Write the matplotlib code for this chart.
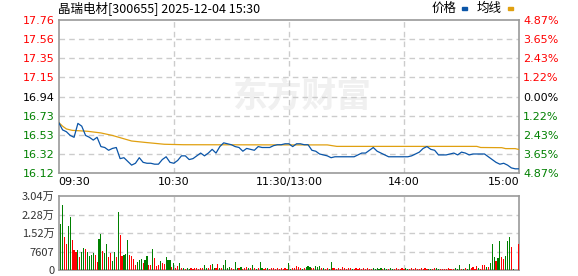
import matplotlib
matplotlib.use("Agg")
import matplotlib.pyplot as plt
from matplotlib.patches import Rectangle

plt.rcParams['font.family'] = ['DejaVu Sans', 'Noto Sans CJK SC']
CJK = ['Noto Sans CJK SC', 'DejaVu Sans']

title = "晶瑞电材[300655] 2025-12-04 15:30"
prev_close = 16.94

# minute index from 09:30 (0) to 15:00 (240), lunch break removed
price_minutes = list(range(0, 241, 2))
prices = [
    16.66, 16.58, 16.56, 16.52, 16.50, 16.65, 16.62, 16.52, 16.50, 16.47,
    16.50, 16.40, 16.39, 16.36, 16.38, 16.39, 16.27, 16.28, 16.24, 16.20,
    16.22, 16.28, 16.23, 16.22, 16.22, 16.21, 16.21, 16.26, 16.29, 16.23,
    16.22, 16.25, 16.30, 16.30, 16.26, 16.27, 16.30, 16.33, 16.30, 16.33,
    16.37, 16.33, 16.40, 16.44, 16.43, 16.42, 16.40, 16.39, 16.35, 16.38,
    16.37, 16.36, 16.40, 16.39, 16.39, 16.39, 16.41, 16.42, 16.42, 16.43,
    16.43, 16.40, 16.43, 16.43, 16.42, 16.42, 16.36, 16.35, 16.32, 16.31,
    16.30, 16.28, 16.29, 16.29, 16.29, 16.29, 16.29, 16.29, 16.31, 16.33,
    16.33, 16.36, 16.39, 16.35, 16.33, 16.31, 16.29, 16.29, 16.29, 16.29,
    16.29, 16.29, 16.30, 16.32, 16.34, 16.38, 16.40, 16.37, 16.36, 16.31,
    16.31, 16.31, 16.32, 16.33, 16.31, 16.34, 16.33, 16.31, 16.32, 16.32,
    16.32, 16.32, 16.29, 16.26, 16.23, 16.21, 16.22, 16.20, 16.17, 16.16,
    16.16,
]

avg_minutes = [0, 2, 4, 7, 15, 22, 28, 33, 38, 45, 55, 65, 120, 140, 145,
               218, 220, 231, 233, 238, 240]
avg_prices = [16.66, 16.62, 16.59, 16.575, 16.565, 16.547, 16.52, 16.49,
              16.46, 16.445, 16.425, 16.42, 16.418, 16.418, 16.402, 16.402,
              16.39, 16.388, 16.378, 16.378, 16.368]

volumes = [
    27800, 18900, 26700, 13700, 10700, 18100, 21600, 12300, 8200, 7400,
    8200, 5500, 7400, 9000, 8500, 7500, 5750, 6200, 6850, 6200,
    3400, 12700, 14800, 7800, 6850, 10700, 5500, 7100, 3800, 7500,
    5500, 23800, 14400, 5750, 6200, 6600, 12300, 6200, 5750, 4400,
    2050, 3400, 4100, 4400, 3000, 4100, 5750, 2050, 2050, 8500,
    4800, 1650, 1900, 3700, 2700, 2300, 5200, 4100, 4100, 1100,
    3000, 700, 1650, 3000, 700, 800, 600, 700, 500, 800,
    600, 700, 800, 600, 700, 800, 2050, 900, 700, 2050,
    2450, 800, 700, 2450, 900, 800, 2050, 4100, 800, 1370,
    700, 600, 3400, 800, 700, 1370, 600, 800, 1370, 700,
    900, 2050, 700, 600, 800, 3400, 700, 600, 800, 700,
    600, 700, 800, 600, 700, 600, 700, 600, 700, 500,
    3000, 600, 700, 800, 1650, 1100, 700, 600, 800, 1100,
    1650, 1100, 700, 960, 1650, 1100, 1650, 800, 700, 600,
    700, 600, 3300, 800, 700, 600, 700, 600, 1100, 700,
    600, 700, 700, 600, 600, 700, 600, 800, 600, 700,
    600, 700, 600, 600, 700, 600, 700, 600, 700, 600,
    800, 600, 600, 700, 600, 600, 700, 600, 600, 700,
    600, 800, 600, 600, 700, 600, 700, 600, 600, 700,
    600, 800, 600, 600, 600, 600, 700, 800, 600, 600,
    600, 600, 600, 700, 600, 600, 600, 800, 600, 2200,
    600, 600, 700, 600, 2500, 800, 1370, 600, 1650, 800,
    600, 2200, 2200, 1370, 1370, 2880, 10700, 5480, 3560, 4930,
    11900, 5200, 4520, 5750, 11900, 13700, 9600, 400, 0, 0,
    10700,
]
vol_dirs = (
    "GGGRRGGRRR" "GRGGRGGGGR" "RGGRGGRRGG" "RGRRGGGRRR" "RGGGRGGRRG"
    "RRRGRRGGGR" "GRRGRGRGGR" "RRRRRRGGRR" "GGRRGRGGGG" "RRGGRGRRRG"
    "RGRGRGGRRG" "RRRRRRRRRR" "GGRRRRRGRG" "GGRRGGGRGR" "RGGRRRRRRR"
    "RRRGRRRRRR" "RRRRGGGGGR" "GGRGGRRRRR" "RGGRRRRRRR" "RRRGGRRGGR"
    "RRRRRRRGGG" "RGRGGRRRRG" "RRRGRGGGRG" "GRRGGGRGGG" "R"
)

price_lo, price_hi = 16.115, 17.765
price_ticks = [17.76, 17.56, 17.35, 17.15, 16.94, 16.73, 16.53, 16.32, 16.12]
pct_labels = ["4.87%", "3.65%", "2.43%", "1.22%", "0.00%",
              "1.22%", "2.43%", "3.65%", "4.87%"]
vol_ticks = [0, 7607, 15214, 22821, 30428]
vol_labels = ["0", "7607", "1.52万", "2.28万", "3.04万"]
time_ticks = [0, 60, 120, 180, 240]
time_labels = ["09:30", "10:30", "11:30/13:00", "14:00", "15:00"]

RED, GREEN = "#ff0000", "#008000"
BORDER, GRID = "#999999", "#cccccc"

fig = plt.figure(figsize=(5.78, 2.76), dpi=100)
fig.patch.set_facecolor("white")
ax = fig.add_axes([0.1016, 0.3732, 0.7964, 0.5543])
axv = fig.add_axes([0.1016, 0.0217, 0.7964, 0.2681])

# watermark
ax.text(0.53, 0.5, "东方财富", transform=ax.transAxes, fontsize=25,
        color="#f0f0f0", ha="center", va="center", fontweight="bold",
        family=CJK, zorder=0)

for a in (ax, axv):
    a.set_xlim(0, 240)
    for s in a.spines.values():
        s.set_color(BORDER)
        s.set_linewidth(1.2)
    for m in time_ticks[1:-1]:
        a.axvline(m, color=GRID, lw=1, dashes=(4, 3), zorder=1)

for lv in price_ticks[1:-1]:
    ax.axhline(lv, color=GRID, lw=1, dashes=(4, 3), zorder=1)
for lv in vol_ticks[1:-1]:
    axv.axhline(lv, color=GRID, lw=1, dashes=(4, 3), zorder=1)

ax.plot(avg_minutes, avg_prices, color="#e0a010", lw=0.9, zorder=3)
ax.plot(price_minutes, prices, color="#0a55a8", lw=0.9, zorder=4)
ax.set_ylim(price_lo, price_hi)

tick_colors = [RED] * 4 + ["black"] + [GREEN] * 4
ax.set_yticks(price_ticks)
ax.set_yticklabels([f"{v:.2f}" for v in price_ticks], fontsize=8)
for lab, c in zip(ax.get_yticklabels(), tick_colors):
    lab.set_color(c)
ax.tick_params(axis="y", length=0, pad=3)

axr = ax.twinx()
axr.set_ylim(price_lo, price_hi)
axr.set_yticks(price_ticks)
axr.set_yticklabels(pct_labels, fontsize=8)
for lab, c in zip(axr.get_yticklabels(), tick_colors):
    lab.set_color(c)
axr.tick_params(axis="y", length=0, pad=3)
for s in axr.spines.values():
    s.set_visible(False)

ax.set_xticks(time_ticks)
ax.set_xticklabels(time_labels, fontsize=8)
ax.tick_params(axis="x", length=0, pad=3)
xl = ax.get_xticklabels()
xl[0].set_ha("left")
xl[-1].set_ha("right")

bar_colors = [RED if d == "R" else GREEN for d in vol_dirs]
axv.bar(range(len(volumes)), volumes, width=0.6, color=bar_colors, zorder=3)
axv.set_ylim(0, vol_ticks[-1])
axv.set_yticks(vol_ticks)
axv.set_yticklabels(vol_labels, fontsize=8, color="#333333", family=CJK)
axv.tick_params(axis="y", length=0, pad=3)
axv.set_xticks([])

fig.text(58 / 578, 1 - 8 / 276, title, fontsize=9, family=CJK,
         ha="left", va="center")
fig.text(432 / 578, 1 - 8 / 276, "价格", fontsize=9, family=CJK,
         ha="left", va="center")
fig.text(477 / 578, 1 - 8 / 276, "均线", fontsize=9, family=CJK,
         ha="left", va="center")
fig.patches.append(Rectangle((462 / 578, 1 - 10 / 276), 5 / 578, 3 / 276,
                             transform=fig.transFigure, color="#0a55a8"))
fig.patches.append(Rectangle((508 / 578, 1 - 10 / 276), 5 / 578, 3 / 276,
                             transform=fig.transFigure, color="#e0a010"))

fig.savefig("out.png", dpi=100)
